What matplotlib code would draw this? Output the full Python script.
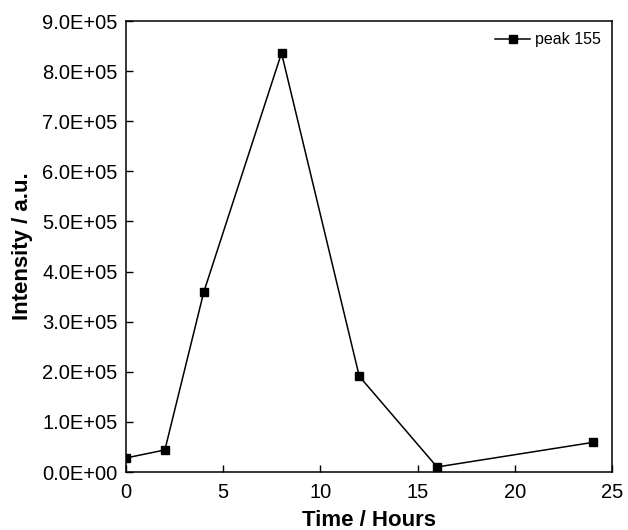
import numpy as np
import matplotlib.pyplot as plt

plt.rcParams.update({'font.family': 'Liberation Sans', 'font.size': 14})

hours = [0, 2, 4, 8, 12, 16, 24]
intensity = [2.8e4, 4.4e4, 3.59e5, 8.36e5, 1.91e5, 1.0e4, 5.9e4]

fig = plt.figure(figsize=(6.28, 5.3), dpi=100)
ax = fig.add_axes([126/628, 1-472/530, (612-126)/628, (472-21)/530])

ax.plot(hours, intensity, '-s', color='black', linewidth=1.1, markersize=6,
        label='peak 155')

ax.set_xlim(0, 25)
ax.set_ylim(0, 9e5)
ax.set_xticks(np.arange(0, 26, 5))
ax.set_yticks(np.arange(0, 9.01e5, 1e5))
ax.set_yticklabels([f'{v/1e5:.1f}E+05' if v > 0 else '0.0E+00'
                    for v in np.arange(0, 9.01e5, 1e5)])
ax.tick_params(direction='in', length=5, width=1, labelsize=14.5, pad=6)
ax.tick_params(axis='x', pad=8)
for s in ax.spines.values():
    s.set_linewidth(1.1)

ax.set_xlabel('Time / Hours', fontsize=16, fontweight='bold', labelpad=6)
ax.set_ylabel('Intensity / a.u.', fontsize=16, fontweight='bold', labelpad=7)

ax.legend(loc='upper right', frameon=False, fontsize=11.5, handlelength=2.2,
          handletextpad=0.3, borderaxespad=0.3)

fig.savefig('out.png', dpi=100)
